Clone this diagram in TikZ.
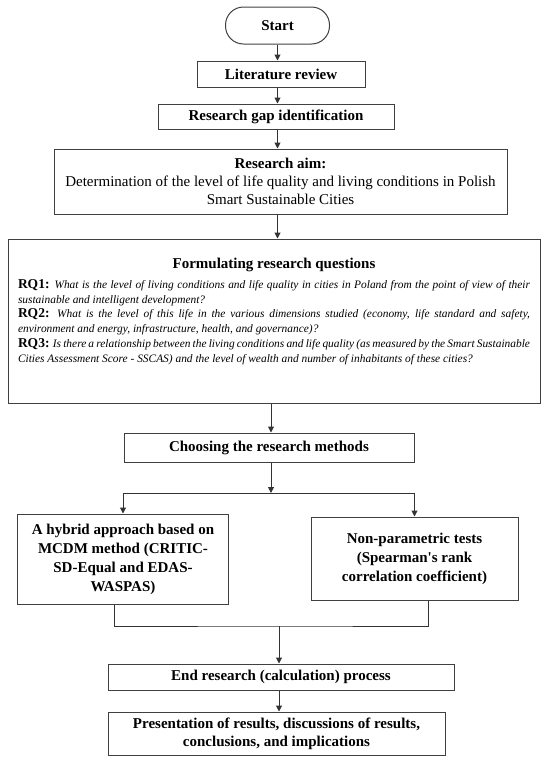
\documentclass[tikz,border=0pt]{standalone}
\usepackage{fontspec}
\setmainfont{Liberation Serif}
\usetikzlibrary{arrows.meta}
\tikzset{
  box/.style={draw=black!75, line width=1pt, align=center, inner sep=0pt,
    font=\fontsize{15}{19}\selectfont\bfseries},
  arr/.style={draw=black!80, line width=1pt, -{Triangle[length=6pt,width=6pt]}},
  wire/.style={draw=black!80, line width=1pt},
}
\newcommand{\qlabel}[1]{{\fontsize{13.5}{14.8}\selectfont\bfseries #1}}
\begin{document}
\begin{tikzpicture}[x=1pt,y=-1pt]
\useasboundingbox (0,0) rectangle (550,761);

\node[box, rounded corners=18pt, minimum width=104pt, minimum height=37pt] (start) at (277.5,25.5) {Start};
\node[box, minimum width=168pt, minimum height=26pt] (lit) at (281,74) {Literature review};
\node[box, minimum width=236pt, minimum height=25pt] (gap) at (276,116.5) {Research gap identification};
\node[box, minimum width=453pt, minimum height=65pt, font=\fontsize{15}{18}\selectfont] (aim) at (280.5,181.5)
  {\textbf{Research aim:}\\Determination of the level of life quality and living conditions in Polish\\Smart Sustainable Cities};

% research questions
\node[box, minimum width=532pt, minimum height=164pt] (rq) at (274,321) {\parbox[c][164pt][t]{512pt}{%
  \normalfont
  \vspace*{19pt}
  {\centering\fontsize{15}{18}\selectfont\bfseries Formulating research questions\par}
  \vspace{5pt}
  \fontsize{11.4}{14.8}\selectfont
  \qlabel{RQ1:} {\itshape What is the level of living conditions and life quality in cities in Poland from the point of view of their\linebreak
  sustainable and intelligent development?}\par
  \qlabel{RQ2:} {\itshape What is the level of this life in the various dimensions studied (economy, life standard and safety,\linebreak
  environment and energy, infrastructure, health, and governance)?}\par
  \qlabel{RQ3:} {\itshape Is there a relationship between the living conditions and life quality (as measured by the Smart Sustainable\linebreak
  Cities Assessment Score - SSCAS) and the level of wealth and number of inhabitants of these cities?}\par}};

\node[box, minimum width=290pt, minimum height=29pt] (choose) at (269,447.5) {Choosing the research methods};
\node[box, minimum width=211pt, minimum height=90pt] (hybrid) at (123,559)
  {A hybrid approach based on\\MCDM method (CRITIC-\\SD-Equal and EDAS-\\WASPAS)};
\node[box, minimum width=207pt, minimum height=83pt] (nonpar) at (414.5,558.5)
  {Non-parametric tests\\(Spearman\textquotesingle s rank\\correlation coefficient)};
\node[box, minimum width=346pt, minimum height=26pt] (endp) at (281,677) {End research (calculation) process};
\node[box, minimum width=337pt, minimum height=43pt, font=\fontsize{15}{18}\selectfont\bfseries] (pres) at (276.5,733.5)
  {Presentation of results, discussions of results,\\conclusions, and implications};

\coordinate (fork) at (271,493);
\coordinate (join) at (279,626);

\draw[arr] (start.south) -- (start.south |- lit.north);
\draw[arr] (start.south |- lit.south) -- (start.south |- gap.north);
\draw[arr] (start.south |- gap.south) -- (start.south |- aim.north);
\draw[arr] (start.south |- aim.south) -- (start.south |- rq.north);
\draw[arr] (fork |- rq.south) -- (fork |- choose.north);
\draw[arr] (fork |- choose.south) -- (fork);
\draw[wire] (fork -| hybrid.north) -- (fork -| nonpar.north);
\draw[arr] (fork -| hybrid.north) -- (hybrid.north);
\draw[arr] (fork -| nonpar.north) -- (nonpar.north);
\draw[wire] ([xshift=-9pt]hybrid.south) |- (join) -| ([xshift=13.5pt]nonpar.south);
\draw[arr] (join) -- (join |- endp.north);
\draw[arr] (join |- endp.south) -- (join |- pres.north);
\end{tikzpicture}
\end{document}
